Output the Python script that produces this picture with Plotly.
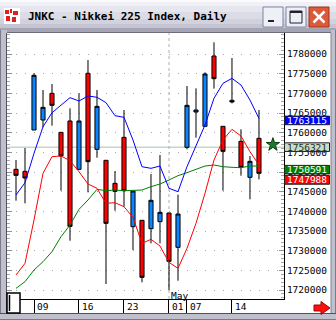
import plotly.graph_objects as go

# ---------------- data ----------------
title_text = "JNKC - Nikkei 225 Index, Daily"
day_labels = ["09", "16", "23", "01", "07", "14"]
day_index = [2, 7, 12, 17, 19, 24]
month_label = "May"
month_index = 17

opens = [1750680, 1750170, 1760680, 1763220, 1770000, 1760080, 1762970, 1750680,
         1775090, 1755760, 1752970, 1747120, 1758810, 1736100, 1737710, 1735590,
         1737370, 1739570, 1730850, 1756270, 1765250, 1761610, 1779490, 1761610,
         1768220, 1757800, 1748640, 1758560]
highs = [1753050, 1756100, 1775090, 1770850, 1772370, 1760080, 1766190, 1770000,
         1778470, 1770850, 1752970, 1750250, 1765760, 1745170, 1737710, 1749490,
         1754320, 1739570, 1744240, 1771860, 1771270, 1775340, 1782970, 1761610,
         1778980, 1760850, 1754070, 1765760]
lows = [1742710, 1742030, 1760680, 1761360, 1761780, 1745250, 1732540, 1750680,
        1744830, 1753640, 1721520, 1740170, 1741180, 1730170, 1721950, 1731860,
        1731860, 1720000, 1722370, 1755760, 1758730, 1761610, 1771190, 1745250,
        1767460, 1749070, 1743050, 1748130]
closes = [1749150, 1748470, 1774580, 1766440, 1766950, 1754070, 1736180, 1762970,
          1752630, 1766690, 1736950, 1745080, 1745250, 1745170, 1723220, 1742800,
          1739740, 1727290, 1739320, 1766950, 1765760, 1774920, 1773730, 1755250,
          1767800, 1751190, 1752710, 1749660]

ma_blue = [1744150, 1747290, 1754740, 1761520, 1765080, 1767030, 1768900, 1768050,
           1769320, 1769000, 1767630, 1764320, 1763900, 1758130, 1751350, 1750930,
           1751520, 1745850, 1745000, 1751350, 1756860, 1761950, 1768730, 1772540,
           1773810, 1772120, 1768300, 1763600]
ma_red = [1723810, 1726780, 1737790, 1749660, 1753900, 1754070, 1752880, 1750080,
          1746950, 1745850, 1742030, 1742200, 1741180, 1738470, 1731860, 1732880,
          1731180, 1727030, 1725510, 1730590, 1736950, 1744570, 1753050, 1758130,
          1760850, 1759150, 1755170, 1751780]
ma_green = [1720420, 1722120, 1725080, 1727200, 1729740, 1733560, 1736520, 1740510,
            1742880, 1745590, 1745250, 1745420, 1745250, 1745250, 1745420, 1746270,
            1746950, 1747960, 1749070, 1749830, 1750680, 1751520, 1751780, 1751350,
            1751190, 1751100, 1751520, 1751520]

label_blue = 1763115
label_cursor = 1756321
label_green = 1750591
label_red = 1747988

y_ticks = list(range(1720000, 1780001, 5000))

# ---------------- layout geometry ----------------
W, H = 336, 320
PL, PR, PT, PB = 7, 284, 33, 299
Y_MIN, Y_MAX = 1717713, 1785339
X_MIN, X_MAX = -1, 29.78
UPP = (Y_MAX - Y_MIN) / (PB - PT)  # price units per pixel


def px(x):
    return (x - PL) / (PR - PL)


def py(y):
    return (PB - y) / (PB - PT)


MONO = "DejaVu Sans Mono"
n = len(opens)
xs = list(range(n))

fig = go.Figure()

fig.add_trace(go.Candlestick(
    x=xs, open=opens, high=highs, low=lows, close=closes,
    increasing=dict(line=dict(color="black", width=1), fillcolor="#0a84ff"),
    decreasing=dict(line=dict(color="black", width=1), fillcolor="#ff0000"),
    whiskerwidth=0, hoverinfo="skip", showlegend=False))

for vals, col in ((ma_green, "#008000"), (ma_red, "#ff0000"), (ma_blue, "#0000ff")):
    fig.add_trace(go.Scatter(x=xs, y=vals, mode="lines",
                             line=dict(color=col, width=1),
                             hoverinfo="skip", showlegend=False))

# green star marker next to the cursor price
fig.add_trace(go.Scatter(x=[n - 1 + 1.55], y=[label_cursor + 2.5 * UPP], mode="markers",
                         marker=dict(symbol="star", size=10, color="#1d7a2c",
                                     line=dict(color="#0b3d12", width=1)),
                         hoverinfo="skip", showlegend=False, cliponaxis=False))

shapes = []
annotations = []

# cursor horizontal line and month separator
shapes.append(dict(type="line", xref="paper", yref="y", x0=0, x1=1,
                   y0=label_cursor, y1=label_cursor, layer="below",
                   line=dict(color="#c4d8c4", width=1.5)))
shapes.append(dict(type="line", xref="x", yref="paper", x0=month_index, x1=month_index,
                   y0=0, y1=1, layer="below",
                   line=dict(color="#b0b0b0", width=1, dash="dot")))

# right value boxes
for val, fill, tcol in ((label_blue, "#0000ff", "white"),
                        (label_cursor, "#c8dcc8", "#203020"),
                        (label_green, "#008000", "white"),
                        (label_red, "#ff0000", "white")):
    shapes.append(dict(type="rect", xref="paper", yref="y",
                       x0=px(284.5), x1=px(329.5),
                       y0=val - 4.3 * UPP, y1=val + 4.3 * UPP,
                       fillcolor=fill, line=dict(color="#202020", width=1), layer="above"))
    annotations.append(dict(x=px(307), y=val, xref="paper", yref="y",
                            text=str(val), showarrow=False,
                            xanchor="center", yanchor="middle",
                            font=dict(family=MONO, size=9.5, color=tcol)))

# x labels
for idx, lab in zip(day_index, day_labels):
    annotations.append(dict(x=idx, y=py(306.5), xref="x", yref="paper", text=lab,
                            showarrow=False, xanchor="left", yanchor="middle", xshift=1,
                            font=dict(family=MONO, size=9.5, color="black")))
annotations.append(dict(x=month_index, y=py(295), xref="x", yref="paper", text=month_label,
                        showarrow=False, xanchor="left", yanchor="middle", xshift=0,
                        font=dict(family=MONO, size=9.5, color="black")))

# ---------------- window chrome ----------------
def prect(x0, y0, x1, y1, fill, line=None, lw=0):
    d = dict(type="rect", xref="paper", yref="paper", x0=px(x0), x1=px(x1),
             y0=py(y1), y1=py(y0), fillcolor=fill, layer="above",
             line=dict(width=lw, color=line or fill))
    shapes.append(d)


def pline(x0, y0, x1, y1, col, w=1):
    shapes.append(dict(type="line", xref="paper", yref="paper", x0=px(x0), x1=px(x1),
                       y0=py(y0), y1=py(y1), layer="above", line=dict(color=col, width=w)))


# title bar gradient
bands = [(0, 2, "#fbfbfd"), (2, 6, "#f0f0f6"), (6, 12, "#e6e6ee"), (12, 19, "#dcdce6"),
         (19, 24, "#d2d2de"), (24, 28, "#c4c4d2"), (28, 33, "#a4a4b4")]
for y0, y1, c in bands:
    prect(0, y0, W, y1, c)
pline(0, 32.5, W, 32.5, "#6c6c7c", 1)

# left / right / bottom frame
prect(0, 30, PL, H, "#c0c0cc")
pline(0.5, 30, 0.5, H, "#7a7a88")
pline(6.5, 33, 6.5, 313, "#505060")
prect(331, 30, W, H, "#c0c0cc")
pline(335.5, 30, 335.5, H, "#7a7a88")
pline(331, 33, 331, 313, "#808090")
prect(0, 313.5, W, H, "#c0c0cc")
pline(0, 313.5, W, 313.5, "#505060")
pline(0, 319.5, W, 319.5, "#7a7a88")

# icon
prect(4, 8, 20, 24, "#ffffff")
prect(5, 10, 9, 14, "#e02020")
prect(10, 9, 12, 13, "#e02020")
prect(13, 11, 18, 15, "#e02020")
prect(6, 16, 10, 21, "#e02020")
prect(12, 17, 16, 22, "#e02020")

# buttons
prect(263, 7, 283, 27, "#eef0f6", "#7c84a4", 1)
prect(268, 20, 274, 22, "#202030")
prect(286, 7, 306, 27, "#eef0f6", "#7c84a4", 1)
prect(290, 11, 302, 23, "rgba(0,0,0,0)", "#202030", 1)
prect(290, 11, 302, 13, "#202030")
prect(309, 7, 329, 27, "#dc5a3a", "#a03418", 1)
pline(313.5, 11.5, 324.5, 22.5, "white", 2.5)
pline(324.5, 11.5, 313.5, 22.5, "white", 2.5)

# scroll thumb
prect(7, 293, 20, 313, "white", "black", 1.5)
pline(9.5, 295, 9.5, 311, "black", 1.5)

# red arrow
pts = [(314, 305), (321, 305), (321, 301.5), (330, 308), (321, 314.5), (321, 311), (314, 311)]
path = "M " + " L ".join(f"{px(a):.5f},{py(b):.5f}" for a, b in pts) + " Z"
shapes.append(dict(type="path", xref="paper", yref="paper", path=path,
                   fillcolor="#ff1010", line=dict(color="#a00000", width=1), layer="above"))

annotations.append(dict(x=px(26), y=py(16.5), xref="paper", yref="paper",
                        text="<b>" + title_text + "</b>", showarrow=False,
                        xanchor="left", yanchor="middle",
                        font=dict(family=MONO, size=11, color="black")))

fig.update_layout(
    width=W, height=H, margin=dict(l=PL, r=W - PR, t=PT, b=H - PB, pad=0),
    paper_bgcolor="white", plot_bgcolor="white",
    boxgap=0.35, boxgroupgap=0.3,
    shapes=shapes, annotations=annotations, showlegend=False,
    xaxis=dict(range=[X_MIN, X_MAX], showgrid=False, zeroline=False,
               tickmode="array", tickvals=day_index, ticktext=[""] * len(day_index),
               ticks="outside", ticklen=14, tickcolor="black", tickwidth=1,
               showline=True, linecolor="black", linewidth=1, mirror=True,
               rangeslider=dict(visible=False), fixedrange=True),
    yaxis=dict(range=[Y_MIN, Y_MAX], side="right", zeroline=False,
               tickmode="array", tickvals=y_ticks, ticktext=[str(v) for v in y_ticks],
               ticks="inside", ticklen=5, tickcolor="#909090",
               showgrid=True, gridcolor="#a8a8a8", gridwidth=1, griddash="1px,8px",
               showline=True, linecolor="black", linewidth=1, mirror="ticks",
               minor=dict(tickmode="linear", tick0=1720000, dtick=1000, ticks="inside",
                          ticklen=3, tickcolor="#a8a8a8", showgrid=False),
               tickfont=dict(family=MONO, size=9.5, color="black"), fixedrange=True),
)

fig.write_html("out.html")
